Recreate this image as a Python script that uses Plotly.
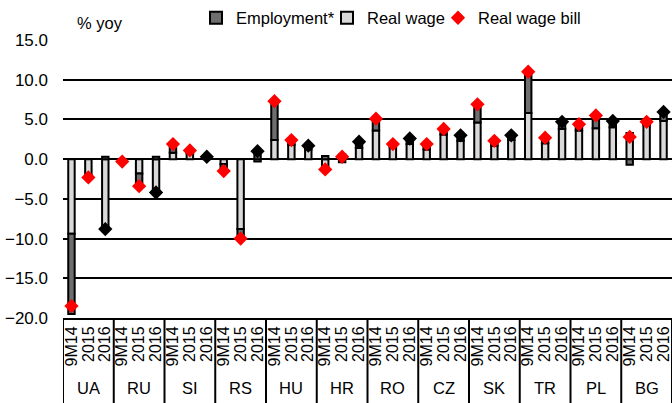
import plotly.graph_objects as go

countries = ["UA", "RU", "SI", "RS", "HU", "HR", "RO", "CZ", "SK", "TR", "PL", "BG"]
periods = ["9M14", "2015", "2016"]

# values per country, order 9M14, 2015, 2016
real_wage = [
    -9.4, -2.0, -8.6,   # UA
    -0.2, -1.8, -4.0,   # RU
    0.8, 0.7, 0.2,      # SI
    -0.6, -8.8, -0.3,   # RS
    2.4, 1.8, 1.2,      # HU
    -1.0, 0.6, 1.4,     # HR
    3.6, 1.5, 1.9,      # RO
    1.2, 3.1, 2.3,      # CZ
    4.6, 1.7, 2.4,      # SK
    5.8, 2.0, 3.8,      # TR
    3.6, 3.9, 4.0,      # PL
    3.3, 4.3, 4.8,      # BG
]
employment = [
    -10.1, -0.2, 0.3,
    -0.1, -1.4, 0.3,
    0.9, 0.3, 0.1,
    -0.8, -1.0, 0.8,
    4.7, 0.6, 0.4,
    0.4, -0.4, 0.6,
    1.2, 0.4, 0.6,
    0.6, 0.7, 0.7,
    2.0, 0.6, 0.6,
    5.0, 0.6, 0.8,
    0.7, 1.3, 0.8,
    -0.7, 0.5, 0.7,
]
real_wage_bill = [
    -18.5, -2.3, -8.8,
    -0.3, -3.4, -4.2,
    1.9, 1.1, 0.3,
    -1.5, -10.0, 1.0,
    7.3, 2.4, 1.7,
    -1.3, 0.3, 2.2,
    5.1, 1.9, 2.6,
    1.9, 3.8, 3.0,
    6.9, 2.3, 3.0,
    11.0, 2.7, 4.7,
    4.4, 5.5, 4.8,
    2.8, 4.7, 5.95,
]

y_tickvals = [-20, -15, -10, -5, 0, 5, 10, 15]

n_per = len(periods)
inner = [p for _ in countries for p in periods]
xpos = list(range(len(inner)))
bill_colors = ["#000000" if p == "2016" else "#ff0000" for p in inner]

FONT = "Liberation Sans, Arial, sans-serif"
W, H = 672, 403
ML, MR, MT, MB = 63, 0, 40, 85
PH = H - MT - MB

fig = go.Figure()
fig.add_trace(go.Bar(
    x=xpos, y=real_wage, name="Real wage", width=0.38,
    marker=dict(color="#d9d9d9", line=dict(color="#000000", width=2)),
    legendrank=2, legendwidth=66,
))
fig.add_trace(go.Bar(
    x=xpos, y=employment, name="Employment*", width=0.38,
    marker=dict(color="#6e6e6e", line=dict(color="#000000", width=2)),
    legendrank=1, legendwidth=86,
))
fig.add_trace(go.Scatter(
    x=xpos, y=real_wage_bill, name="Real wage bill", mode="markers",
    marker=dict(symbol="diamond", size=11, color=bill_colors),
    legendrank=3, legendwidth=130,
))

annotations = [dict(
    text="% yoy", xref="paper", yref="paper",
    x=(75 - ML) / (W - ML - MR), xanchor="left", y=1 + (MT - 23) / PH, yanchor="middle",
    showarrow=False, font=dict(size=16.5),
)]
shapes = []
for k, c in enumerate(countries):
    annotations.append(dict(
        text=c, xref="x", yref="paper", x=k * n_per + (n_per - 1) / 2,
        y=-(388 - (H - MB)) / PH, yanchor="middle", xanchor="center",
        showarrow=False, font=dict(size=16.5),
    ))
for k in range(len(countries) + 1):
    shapes.append(dict(
        type="line", xref="x", yref="paper",
        x0=k * n_per - 0.5, x1=k * n_per - 0.5, y0=0, y1=-MB / PH,
        line=dict(color="black", width=2),
    ))

fig.update_layout(
    width=W, height=H,
    margin=dict(l=ML, r=MR, t=MT, b=MB, autoexpand=False),
    paper_bgcolor="white", plot_bgcolor="white",
    font=dict(family=FONT, size=16, color="black"),
    barmode="relative",
    showlegend=True,
    legend=dict(
        orientation="h", xref="container", yref="container",
        x=196 / W, xanchor="left", y=1 - 18 / H, yanchor="middle",
        font=dict(size=16.5), bgcolor="rgba(0,0,0,0)", borderwidth=0,
        traceorder="normal",
    ),
    annotations=annotations,
    shapes=shapes,
)
fig.update_xaxes(
    range=[-0.5, len(inner) - 0.5], tickmode="array", tickvals=xpos, ticktext=inner,
    tickangle=-90, automargin=False,
    showgrid=False, zeroline=False, showline=True, linecolor="black", linewidth=2,
    ticks="", tickfont=dict(size=16),
)
fig.update_yaxes(
    range=[-20, 15], tickmode="array", tickvals=y_tickvals, tickformat=".1f",
    showgrid=True, gridcolor="black", gridwidth=2, automargin=False,
    zeroline=True, zerolinecolor="black", zerolinewidth=2,
    showline=False, ticks="", ticklabelstandoff=14, tickfont=dict(size=17),
)

fig.write_html(
    "out.html",
    config={"displayModeBar": False},
    post_script="document.body.style.margin='0';document.body.style.padding='0';"
                "document.documentElement.style.overflow='hidden';",
)
